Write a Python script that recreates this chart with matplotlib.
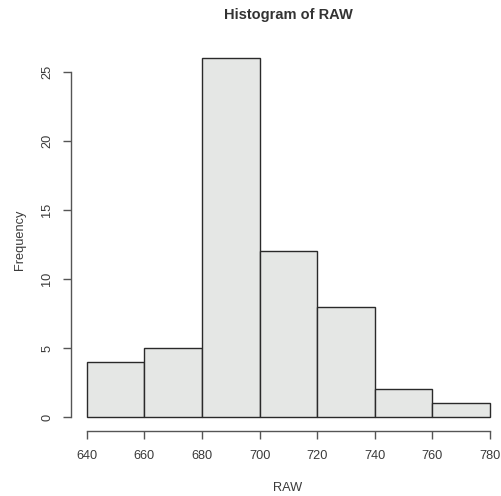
import matplotlib
matplotlib.use("Agg")
import matplotlib.pyplot as plt
import numpy as np

bin_edges = [640, 660, 680, 700, 720, 740, 760, 780]
counts = [4, 5, 26, 12, 8, 2, 1]
x_ticks = [640, 660, 680, 700, 720, 740, 760, 780]
y_ticks = [0, 5, 10, 15, 20, 25]

plt.rcParams['font.family'] = ['Liberation Sans', 'DejaVu Sans']
txt = '#3a3a3a'

fig = plt.figure(figsize=(5.01, 4.96), dpi=100)
W, H = 501, 496
left_px, right_px, bottom_px, top_px = 70.6, 501.0, 431.3, 44.1
ax = fig.add_axes([left_px / W, 1 - bottom_px / H, (right_px - left_px) / W, (bottom_px - top_px) / H])

edges = np.array(bin_edges)
ax.bar(edges[:-1], counts, width=np.diff(edges), align='edge',
       color='#e5e7e5', edgecolor='#2a2a2a', linewidth=1.0)

ax.set_xlim(634.4, 634.4 + (right_px - left_px) / 2.881)
ax.set_ylim(-1.04, 27.04)

for s in ['top', 'right']:
    ax.spines[s].set_visible(False)
ax.spines['left'].set_bounds(0, 25)
ax.spines['bottom'].set_bounds(640, 780)
for s in ['left', 'bottom']:
    ax.spines[s].set_color('#555555')
    ax.spines[s].set_linewidth(1.0)

ax.set_xticks(x_ticks)
ax.set_yticks(y_ticks)
ax.set_yticklabels([str(v) for v in y_ticks], rotation=90, va='center')
ax.tick_params(axis='both', direction='out', length=5.5, width=1.0, color='#555555',
               labelsize=9.2, labelcolor=txt)
ax.tick_params(axis='x', pad=8)
ax.tick_params(axis='y', pad=7)

fig.text(20 / W, 1 - 240 / H, 'Frequency', rotation=90, ha='center', va='center',
         fontsize=9.2, color=txt)
fig.text(288 / W, 1 - 488 / H, 'RAW', ha='center', va='center', fontsize=9.2, color=txt)
fig.text(288 / W, 1 - 14.5 / H, 'Histogram of RAW', ha='center', va='center',
         fontsize=10.5, fontweight='bold', color='#333333')

fig.savefig('out.png', dpi=100)
